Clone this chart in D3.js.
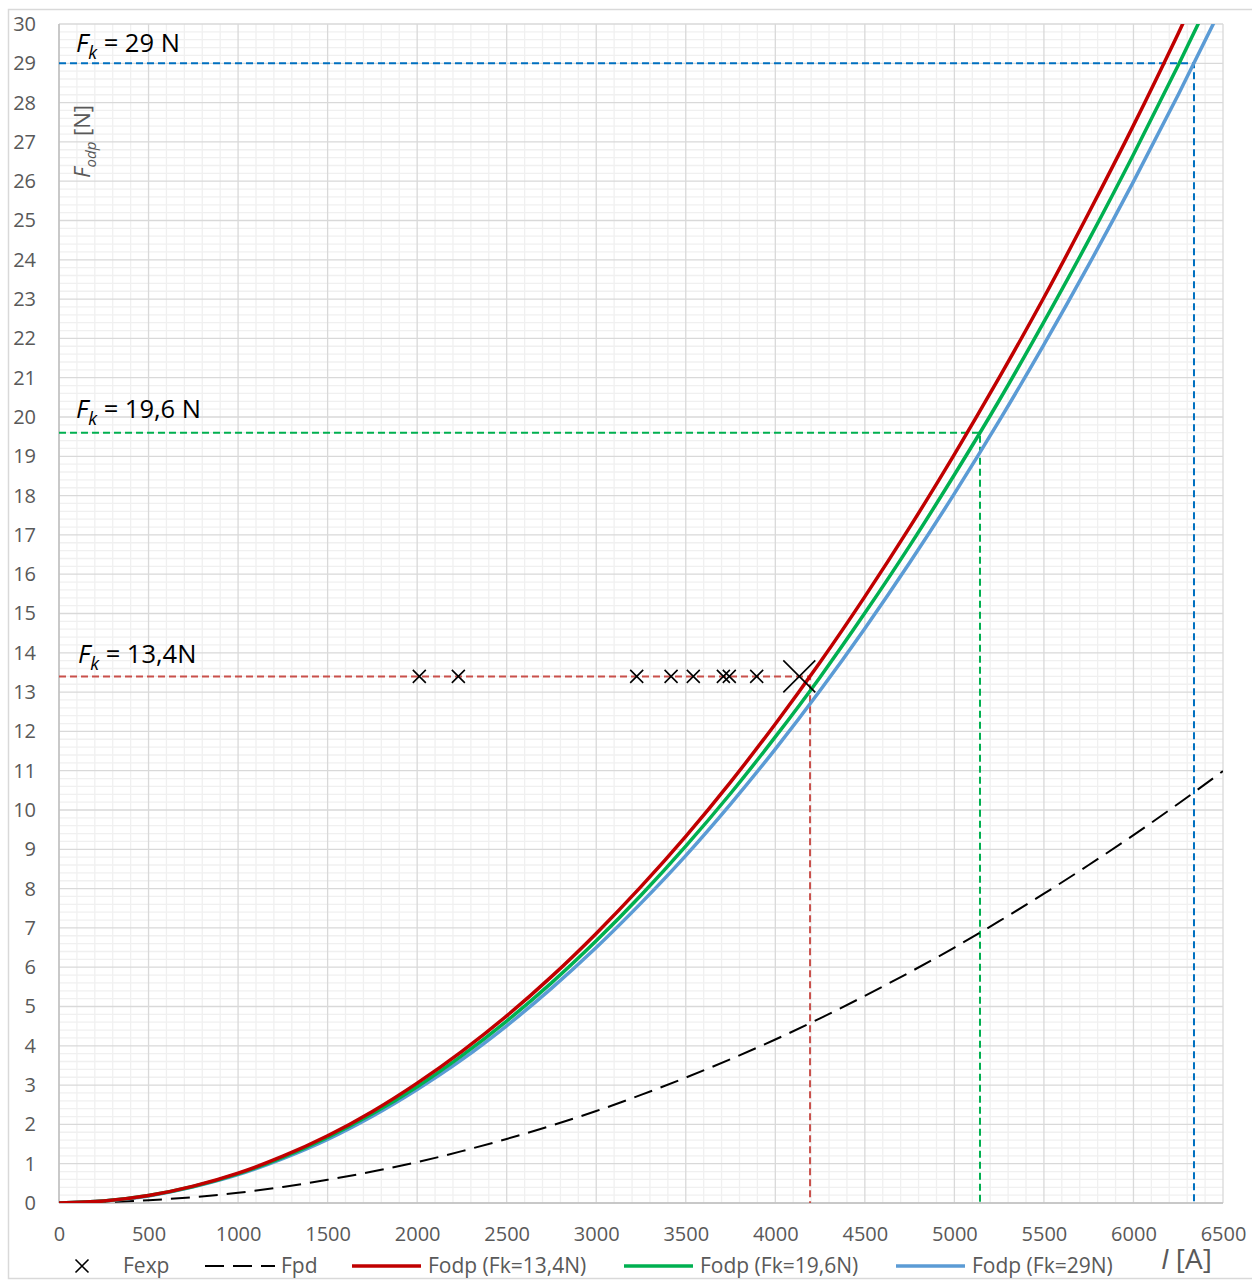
<!DOCTYPE html>
<html>
<head>
<meta charset="utf-8">
<script src="https://cdn.jsdelivr.net/npm/d3@7"></script>
<style>
  body { margin: 0; background: #fff; }
  text { font-family: "Open Sans", "Noto Sans", sans-serif; }
</style>
</head>
<body>
<div id="chart"></div>
<script>
// current I [A]
const currents = [0, 250, 500, 750, 1000, 1250, 1500, 1750, 2000, 2250, 2500, 2750, 3000,
  3250, 3500, 3750, 4000, 4250, 4500, 4750, 5000, 5250, 5500, 5750, 6000, 6250, 6500];

// Fodp curves
const fodp134 = [0, 0.05, 0.19, 0.43, 0.76, 1.19, 1.71, 2.33, 3.05, 3.86, 4.76, 5.76, 6.86,
  8.05, 9.33, 10.71, 12.19, 13.76, 15.43, 17.19, 19.05, 21.0, 23.04, 25.19, 27.42, 29.76, 32.19];
const fodp196 = [0, 0.05, 0.19, 0.42, 0.74, 1.16, 1.67, 2.27, 2.96, 3.75, 4.63, 5.6, 6.67,
  7.83, 9.08, 10.42, 11.86, 13.38, 15.01, 16.72, 18.53, 20.42, 22.42, 24.5, 26.68, 28.95, 31.31];
const fodp29 = [0, 0.05, 0.18, 0.41, 0.72, 1.13, 1.62, 2.21, 2.89, 3.65, 4.51, 5.46, 6.5,
  7.63, 8.84, 10.15, 11.55, 13.04, 14.62, 16.29, 18.05, 19.9, 21.84, 23.87, 25.99, 28.2, 30.5];
const fpd = [0, 0.02, 0.07, 0.15, 0.26, 0.41, 0.59, 0.8, 1.04, 1.32, 1.63, 1.97, 2.34,
  2.75, 3.19, 3.66, 4.16, 4.7, 5.27, 5.87, 6.5, 7.17, 7.87, 8.6, 9.36, 10.16, 10.99];

// experimental points
const fexpI = [2012, 2230, 3226, 3418, 3542, 3710, 3743, 3896];
const fexpF = [13.4, 13.4, 13.4, 13.4, 13.4, 13.4, 13.4, 13.4];
const fexpBigI = [4134];
const fexpBigF = [13.4];

// reference levels Fk and the current where each curve reaches it
const fkLevels = [13.4, 19.6, 29];
const fkCurrents = [4194, 5143, 6338];
const fkLabels = ["13,4N", "19,6 N", "29 N"];

const xTicks = d3.range(0, 6501, 500);
const yTicks = d3.range(0, 31, 1);

const W = 1252, H = 1282;
const m = { left: 59, right: 1223, top: 24, bottom: 1203 };

const svg = d3.select("#chart").append("svg")
  .attr("width", W).attr("height", H);

svg.append("rect")
  .attr("x", 8.5).attr("y", 9.5).attr("width", 1260).attr("height", 1269)
  .attr("fill", "#fff").attr("stroke", "#d9d9d9").attr("stroke-width", 1.5);

const x = d3.scaleLinear().domain([0, 6500]).range([m.left, m.right]);
const y = d3.scaleLinear().domain([0, 30]).range([m.bottom, m.top]);

// minor grid
const g = svg.append("g");
g.selectAll(".mx").data(d3.range(0, 6501, 100).filter(v => v % 500 !== 0)).enter()
  .append("line")
  .attr("x1", d => x(d)).attr("x2", d => x(d)).attr("y1", m.top).attr("y2", m.bottom)
  .attr("stroke", "#f0f0f0").attr("stroke-width", 1.3);
g.selectAll(".my").data(d3.range(0, 150).map(i => i * 0.2).filter((v, i) => i % 5 !== 0)).enter()
  .append("line")
  .attr("x1", m.left).attr("x2", m.right).attr("y1", d => y(d)).attr("y2", d => y(d))
  .attr("stroke", "#f0f0f0").attr("stroke-width", 1.3);
// major grid
g.selectAll(".Mx").data(xTicks).enter().append("line")
  .attr("x1", d => x(d)).attr("x2", d => x(d)).attr("y1", m.top).attr("y2", m.bottom)
  .attr("stroke", "#d9d9d9").attr("stroke-width", 1.3);
g.selectAll(".My").data(yTicks).enter().append("line")
  .attr("x1", m.left).attr("x2", m.right).attr("y1", d => y(d)).attr("y2", d => y(d))
  .attr("stroke", "#d9d9d9").attr("stroke-width", 1.3);
// axis lines
g.append("line").attr("x1", m.left).attr("x2", m.right).attr("y1", m.bottom).attr("y2", m.bottom)
  .attr("stroke", "#bfbfbf").attr("stroke-width", 1.5);
g.append("line").attr("x1", m.left).attr("x2", m.left).attr("y1", m.top).attr("y2", m.bottom)
  .attr("stroke", "#bfbfbf").attr("stroke-width", 1.5);

// tick labels
const xAxis = svg.append("g").attr("transform", `translate(0,${m.bottom})`)
  .call(d3.axisBottom(x).tickValues(xTicks).tickSize(0).tickPadding(24).tickFormat(d3.format("d")));
xAxis.select(".domain").remove();
xAxis.selectAll("text").attr("font-size", 20).attr("fill", "#595959")
  .style("font-family", "'Open Sans', sans-serif");

const yAxis = svg.append("g").attr("transform", `translate(${m.left},0)`)
  .call(d3.axisLeft(y).tickValues(yTicks).tickSize(0).tickPadding(23).tickFormat(d3.format("d")));
yAxis.select(".domain").remove();
yAxis.selectAll("text").attr("font-size", 20).attr("fill", "#595959")
  .style("font-family", "'Open Sans', sans-serif");

// clip
svg.append("clipPath").attr("id", "plot-clip").append("rect")
  .attr("x", m.left).attr("y", m.top).attr("width", m.right - m.left).attr("height", m.bottom - m.top);
const plot = svg.append("g").attr("clip-path", "url(#plot-clip)");

// reference dashed lines
const refColors = ["#c9504b", "#00b050", "#0070c0"];
fkLevels.forEach((lvl, i) => {
  const path = d3.path();
  path.moveTo(x(0), y(lvl));
  path.lineTo(x(fkCurrents[i]), y(lvl));
  path.lineTo(x(fkCurrents[i]), y(0));
  plot.append("path").attr("d", path.toString())
    .attr("fill", "none").attr("stroke", refColors[i]).attr("stroke-width", 2)
    .attr("stroke-dasharray", "7,4");
});

const line = d3.line().x(d => x(d[0])).y(d => y(d[1])).curve(d3.curveMonotoneX);
const zip = arr => currents.map((c, i) => [c, arr[i]]);

plot.append("path").attr("d", line(zip(fpd)))
  .attr("fill", "none").attr("stroke", "#000").attr("stroke-width", 2)
  .attr("stroke-dasharray", "19,9");

const series = [
  { data: fodp29, color: "#5b9bd5" },
  { data: fodp196, color: "#00b050" },
  { data: fodp134, color: "#c00000" }
];
series.forEach(s => {
  plot.append("path").attr("d", line(zip(s.data)))
    .attr("fill", "none").attr("stroke", s.color).attr("stroke-width", 3.5);
});

// markers
function cross(sel, cx, cy, r, w) {
  sel.append("path")
    .attr("d", `M${cx - r},${cy - r}L${cx + r},${cy + r}M${cx - r},${cy + r}L${cx + r},${cy - r}`)
    .attr("stroke", "#000").attr("stroke-width", w).attr("fill", "none");
}
fexpI.forEach((v, i) => cross(svg, x(v), y(fexpF[i]), 6.5, 1.6));
fexpBigI.forEach((v, i) => cross(svg, x(v), y(fexpBigF[i]), 16, 1.6));

// Fk annotations
const annY = [663, 418, 52];
const annX = [78, 76, 76];
fkLabels.forEach((lab, i) => {
  const t = svg.append("text").attr("x", annX[i]).attr("y", annY[i])
    .attr("font-size", 25.5).attr("fill", "#000");
  t.append("tspan").attr("font-style", "italic").text("F");
  t.append("tspan").attr("font-style", "italic").attr("font-size", 18).attr("dy", 7).text("k");
  t.append("tspan").attr("dy", -7).text(" = " + lab);
});

// axis titles
const yt = svg.append("text")
  .attr("transform", "translate(90,178) rotate(-90)")
  .attr("font-size", 22).attr("fill", "#595959");
yt.append("tspan").attr("font-style", "italic").text("F");
yt.append("tspan").attr("font-style", "italic").attr("font-size", 15).attr("dy", 6).text("odp");
yt.append("tspan").attr("dy", -6).text(" [N]");

const xt = svg.append("text").attr("x", 1161).attr("y", 1269)
  .attr("font-size", 28).attr("fill", "#595959");
xt.append("tspan").attr("font-style", "italic").text("I");
xt.append("tspan").text(" [A]");

// legend
const ly = 1266;
const fs = 21;
const leg = svg.append("g");
cross(leg, 82, ly, 6.5, 1.6);
leg.append("text").attr("x", 123).attr("y", ly + 7).attr("font-size", fs).attr("fill", "#595959").text("Fexp");
leg.append("line").attr("x1", 205).attr("x2", 275).attr("y1", ly).attr("y2", ly)
  .attr("stroke", "#000").attr("stroke-width", 2).attr("stroke-dasharray", "19,9");
leg.append("text").attr("x", 281).attr("y", ly + 7).attr("font-size", fs).attr("fill", "#595959").text("Fpd");
const legItems = [
  { x: 352, color: "#c00000", label: "Fodp (Fk=13,4N)" },
  { x: 624, color: "#00b050", label: "Fodp (Fk=19,6N)" },
  { x: 896, color: "#5b9bd5", label: "Fodp (Fk=29N)" }
];
legItems.forEach(it => {
  leg.append("line").attr("x1", it.x).attr("x2", it.x + 69).attr("y1", ly).attr("y2", ly)
    .attr("stroke", it.color).attr("stroke-width", 3.5);
  leg.append("text").attr("x", it.x + 76).attr("y", ly + 7).attr("font-size", fs)
    .attr("fill", "#595959").text(it.label);
});
</script>
</body>
</html>
